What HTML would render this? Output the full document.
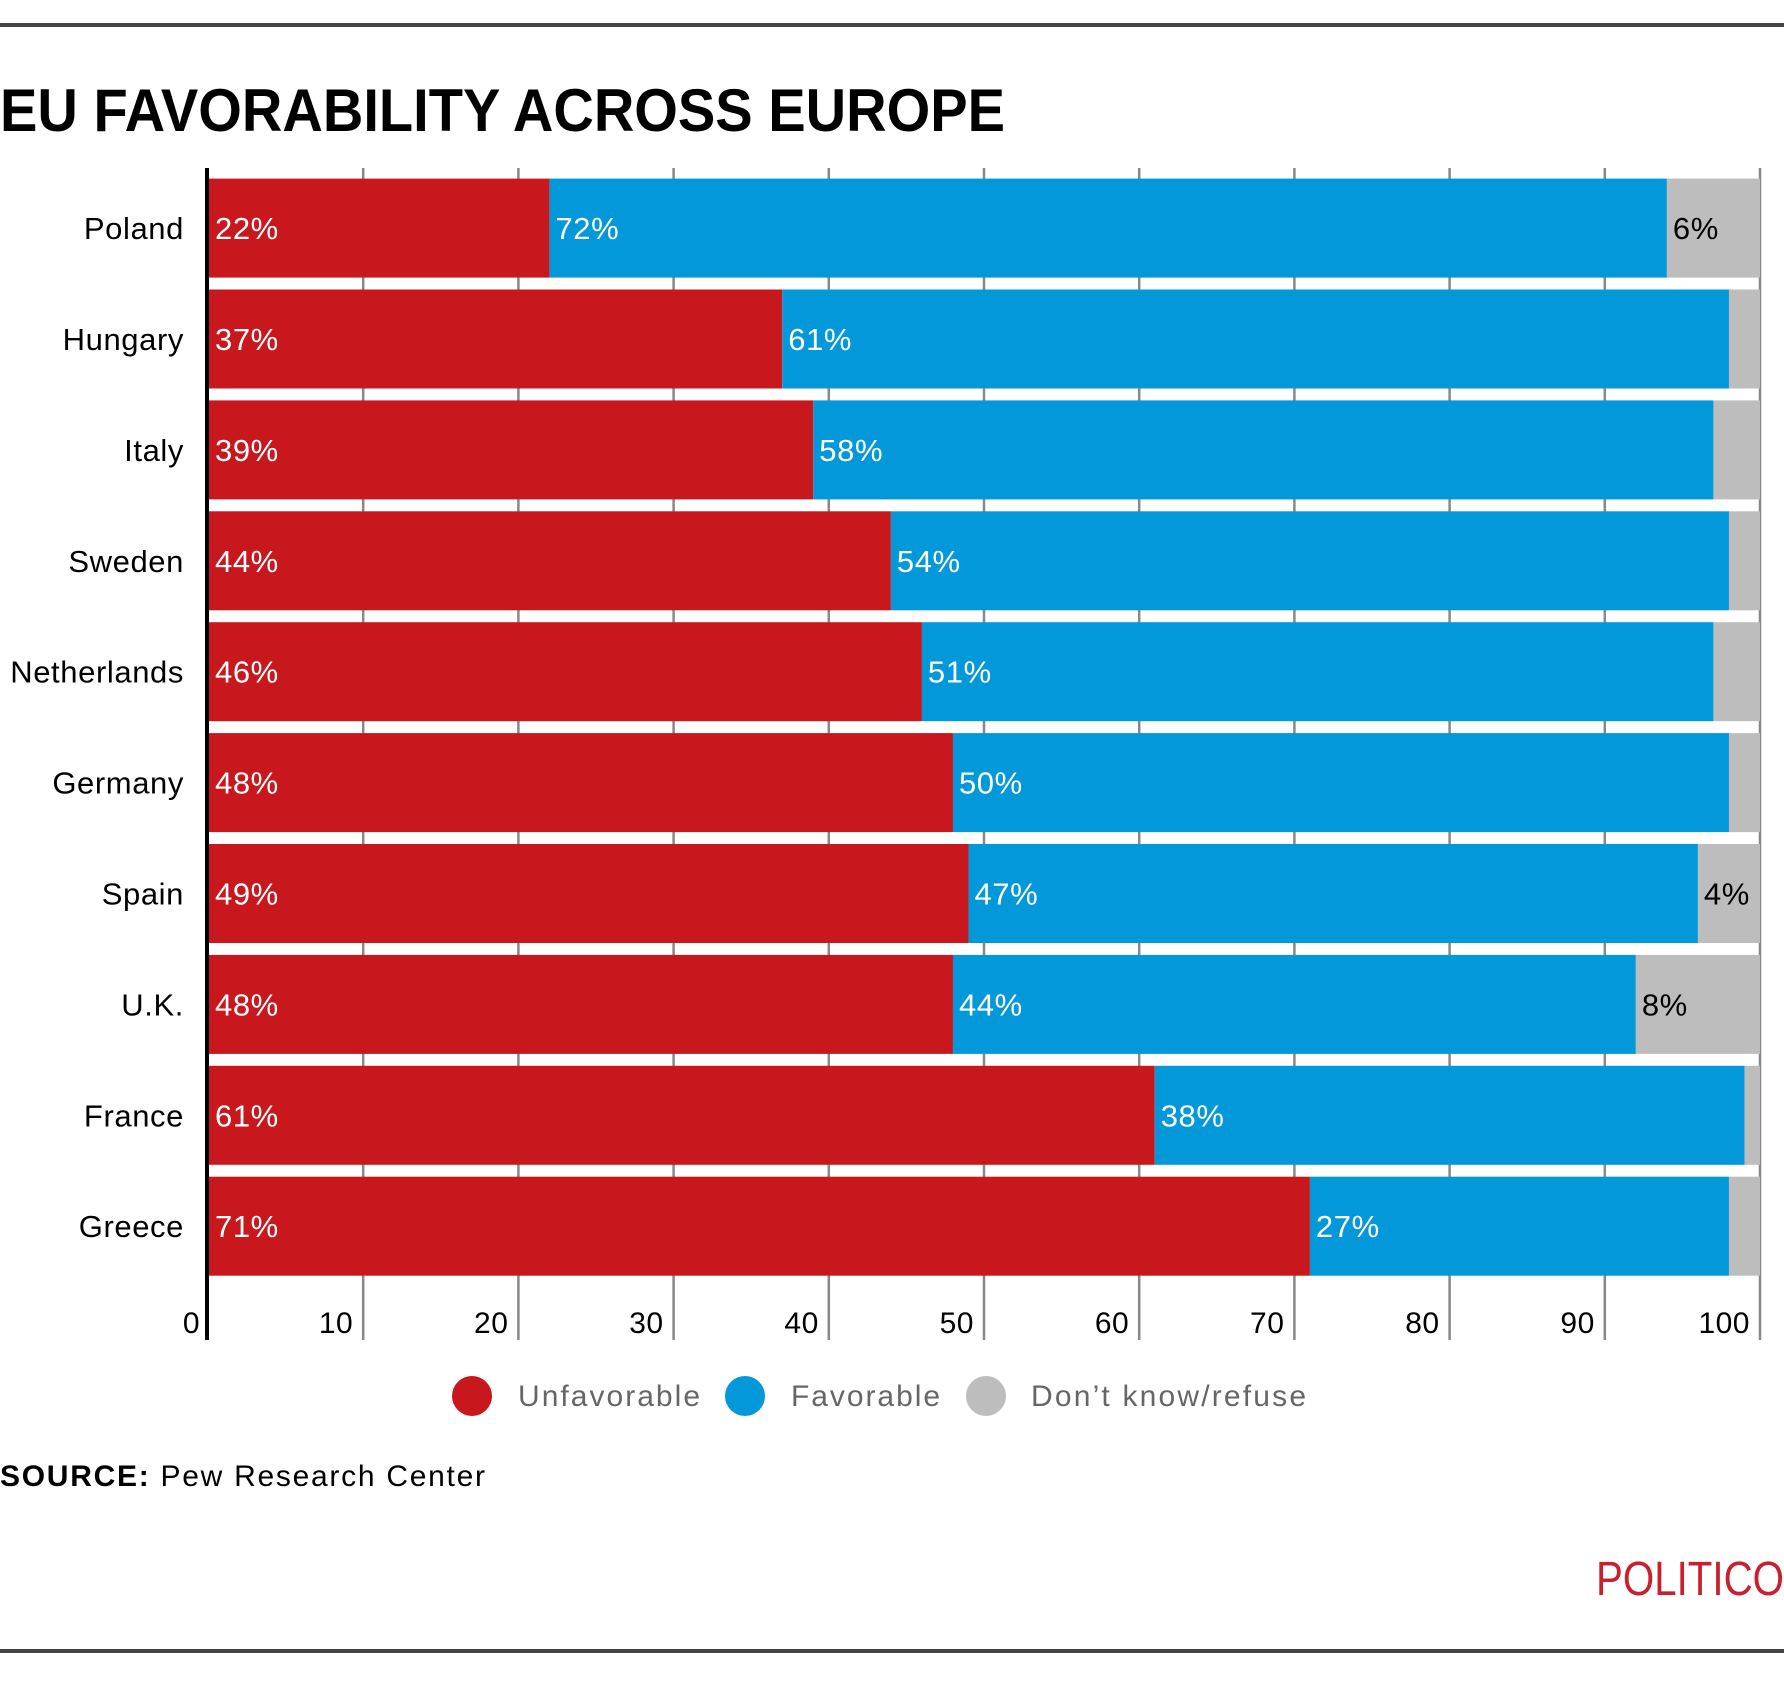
<!DOCTYPE html>
<html><head><meta charset="utf-8">
<style>
html,body{margin:0;padding:0;background:#fff;}
svg{display:block;font-family:"Liberation Sans",sans-serif;}
</style></head>
<body>
<svg id="chart" width="1784" height="1694" viewBox="0 0 1784 1694">
<rect x="0" y="23" width="1784" height="4" fill="#444"/>
<text x="0" y="131" font-size="60" font-weight="bold" fill="#000" textLength="1005" lengthAdjust="spacingAndGlyphs">EU FAVORABILITY ACROSS EUROPE</text>
<g id="grid"></g>
<g id="bars"></g>
<rect x="205" y="168" width="4" height="1172" fill="#000"/>
<g id="ticks"></g>
<g>
<g><circle cx="472" cy="1396" r="20" fill="#c8181e"/><text x="518" y="1406" font-size="30" fill="#666" textLength="182" lengthAdjust="spacing">Unfavorable</text></g>
<g><circle cx="745" cy="1396" r="20" fill="#0398d9"/><text x="791" y="1406" font-size="30" fill="#666" textLength="149" lengthAdjust="spacing">Favorable</text></g>
<g><circle cx="986" cy="1396" r="20" fill="#bdbdbd"/><text x="1031" y="1406" font-size="30" fill="#666" textLength="275" lengthAdjust="spacing">Don’t know/refuse</text></g>
</g>
<text x="0" y="1486" font-size="30" fill="#000" textLength="485" lengthAdjust="spacing"><tspan font-weight="bold">SOURCE:</tspan> Pew Research Center</text>
<text x="1784" y="1595" font-size="48" fill="#c8202f" text-anchor="end" textLength="188" lengthAdjust="spacingAndGlyphs">POLITICO</text>
<rect x="0" y="1649" width="1784" height="4" fill="#444"/>
</svg>
<script>
const countries=["Poland","Hungary","Italy","Sweden","Netherlands","Germany","Spain","U.K.","France","Greece"];
const unfavorable=[22,37,39,44,46,48,49,48,61,71];
const favorable=[72,61,58,54,51,50,47,44,38,27];
const dontKnow=[6,2,3,2,3,2,4,8,1,2];
const tickValues=[0,10,20,30,40,50,60,70,80,90,100];
const NS="http://www.w3.org/2000/svg";
const X0=208,X1=1760,TOP=178.6,STEP=110.9,BH=99;
const xs=v=>X0+(X1-X0)*v/100;
const ys=i=>TOP+i*STEP;
function mk(tag,attrs,parent,txt){const e=document.createElementNS(NS,tag);for(const k in attrs)e.setAttribute(k,attrs[k]);if(txt!==undefined)e.textContent=txt;parent.appendChild(e);return e;}
const grid=document.getElementById('grid'),bars=document.getElementById('bars'),ticks=document.getElementById('ticks');
tickValues.forEach(t=>{
  if(t===0)return;
  const l=mk('line',{x1:xs(t),x2:xs(t),y1:168,y2:1340,stroke:'#888','stroke-width':2.5},grid);
  
  
});
tickValues.forEach(t=>{
  const tx=mk('text',{x:xs(t)-(t===0?8:10),y:1333,'font-size':30,fill:'#000','text-anchor':'end','letter-spacing':'0.5'},ticks,String(t));
  
  
});
countries.forEach((c,i)=>{
  const y=ys(i),cy=y+BH/2+11;
  const g=mk('g',{},bars);
  
  
  const a=unfavorable[i],b=favorable[i],d=dontKnow[i];
  const r1=mk('rect',{x:xs(0),y:y,width:xs(a)-xs(0),height:BH,fill:'#c8181e'},g);
  
  
  const r2=mk('rect',{x:xs(a),y:y,width:xs(a+b)-xs(a),height:BH,fill:'#0398d9'},g);
  
  
  const r3=mk('rect',{x:xs(a+b),y:y,width:xs(a+b+d)-xs(a+b),height:BH,fill:'#bdbdbd'},g);
  
  
  const lab=mk('text',{x:184,y:cy,'font-size':31,fill:'#000','text-anchor':'end','letter-spacing':'0.6'},g,c);
  
  
  const v1=mk('text',{x:xs(0)+7,y:cy,'font-size':31,fill:'#fff','letter-spacing':'0.6'},g,a+'%');
  
  
  const v2=mk('text',{x:xs(a)+6,y:cy,'font-size':31,fill:'#fff','letter-spacing':'0.6'},g,b+'%');
  
  
  if(d>=4){
    const v3=mk('text',{x:xs(a+b)+6,y:cy,'font-size':31,fill:'#000','letter-spacing':'0.6'},g,d+'%');
    
    
  }
});
</script>
</body></html>
